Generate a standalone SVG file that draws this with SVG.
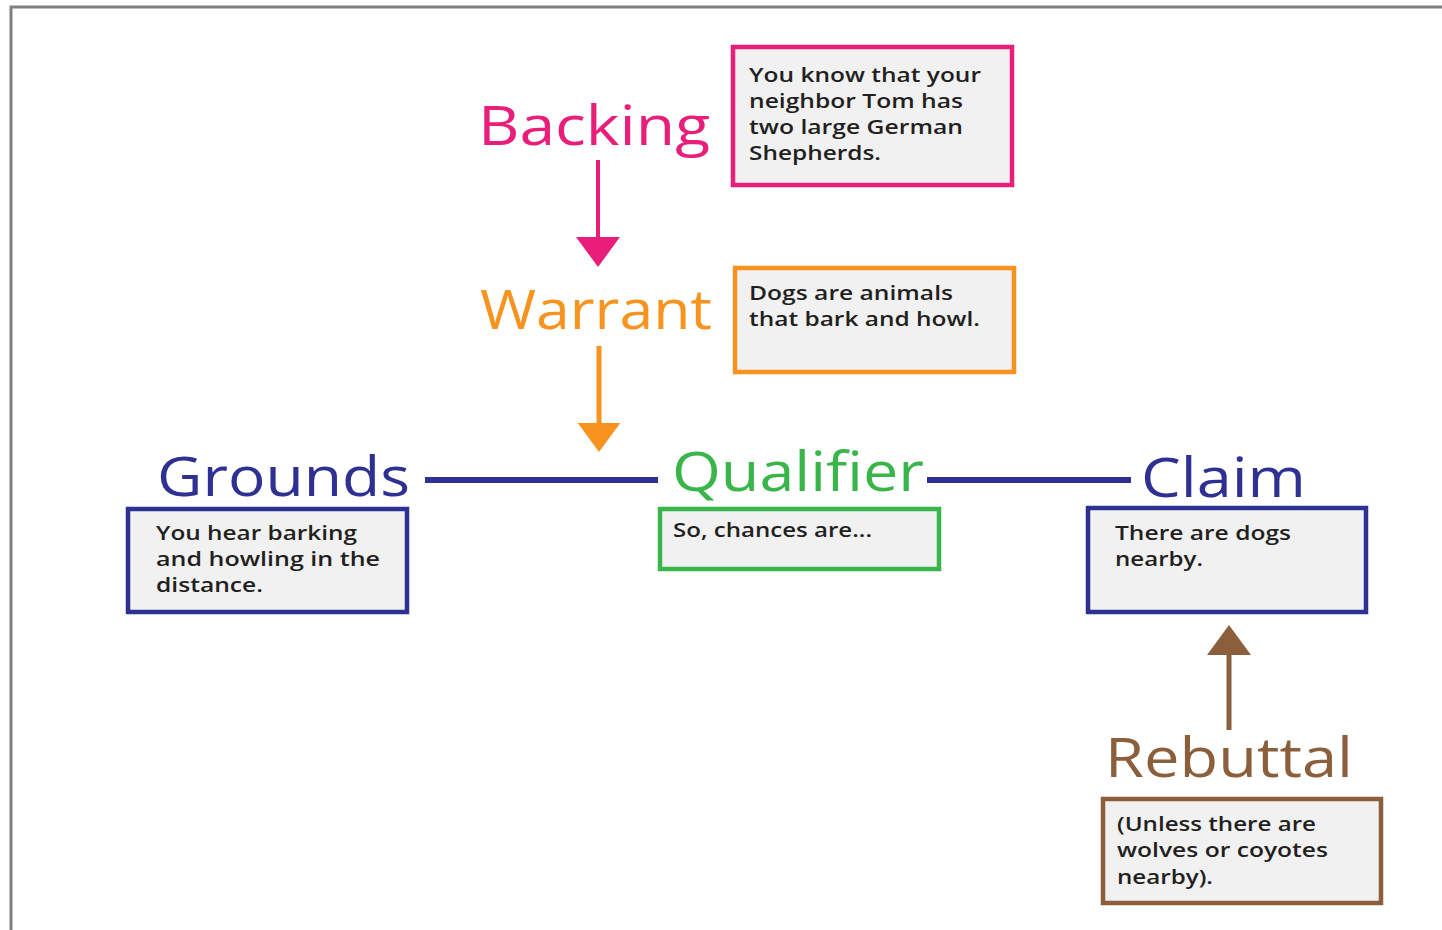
<svg xmlns="http://www.w3.org/2000/svg" width="1442" height="930" viewBox="0 0 1442 930">
<defs>
<style>
.head{font-family:"Open Sans","Noto Sans","Liberation Sans",sans-serif;font-size:55px;}
.body{font-family:"Open Sans","Noto Sans","Liberation Sans",sans-serif;font-size:19px;font-weight:600;fill:#231f20;}
.box{fill:#f1f1f2;stroke-width:4.5;}
.conn{fill:none;}
</style>
<marker id="mPink" viewBox="0 -22 30 44" refX="0" refY="0" markerWidth="30" markerHeight="44" markerUnits="userSpaceOnUse" orient="auto"><path d="M0,-22 L30,0 L0,22 z" fill="#e91e7a"/></marker>
<marker id="mOrange" viewBox="0 -22 30 44" refX="0" refY="0" markerWidth="29" markerHeight="43" markerUnits="userSpaceOnUse" orient="auto"><path d="M0,-22 L30,0 L0,22 z" fill="#f7931e"/></marker>
<marker id="mBrown" viewBox="0 -22 30 44" refX="0" refY="0" markerWidth="32" markerHeight="44" markerUnits="userSpaceOnUse" orient="auto"><path d="M0,-22 L30,0 L0,22 z" fill="#8b5e3c"/></marker>
</defs>
<rect width="1442" height="930" fill="#ffffff"/>
<path d="M11,930 V7 H1442" fill="none" stroke="#808080" stroke-width="3"/>
<g id="connectors" class="conn">
<line x1="598" y1="160" x2="598" y2="237" stroke="#e91e7a" stroke-width="4" marker-end="url(#mPink)"/>
<line x1="599" y1="346" x2="599" y2="423" stroke="#f7931e" stroke-width="5" marker-end="url(#mOrange)"/>
<line x1="425" y1="480" x2="658" y2="480" stroke="#2e3192" stroke-width="6"/>
<line x1="927" y1="480" x2="1131" y2="480" stroke="#2e3192" stroke-width="6"/>
<line x1="1229" y1="730" x2="1229" y2="655" stroke="#8b5e3c" stroke-width="5" marker-end="url(#mBrown)"/>
</g>
<g id="backing">
<text class="head" x="478" y="145" fill="#e91e7a" textLength="232" lengthAdjust="spacingAndGlyphs">Backing</text>
<rect class="box" x="733" y="47" width="279" height="138" stroke="#e91e7a"/>
<text class="body" x="749" y="82" textLength="232" lengthAdjust="spacingAndGlyphs">You know that your</text>
<text class="body" x="749" y="108" textLength="214" lengthAdjust="spacingAndGlyphs">neighbor Tom has</text>
<text class="body" x="749" y="134" textLength="214" lengthAdjust="spacingAndGlyphs">two large German</text>
<text class="body" x="749" y="160" textLength="132" lengthAdjust="spacingAndGlyphs">Shepherds.</text>
</g>
<g id="warrant">
<text class="head" x="480" y="329" fill="#f7931e" textLength="232" lengthAdjust="spacingAndGlyphs">Warrant</text>
<rect class="box" x="735" y="268" width="279" height="104" stroke="#f7931e"/>
<text class="body" x="749" y="300" textLength="204" lengthAdjust="spacingAndGlyphs">Dogs are animals</text>
<text class="body" x="749" y="326" textLength="231" lengthAdjust="spacingAndGlyphs">that bark and howl.</text>
</g>
<g id="grounds">
<text class="head" x="157" y="496" fill="#2e3192" textLength="253" lengthAdjust="spacingAndGlyphs">Grounds</text>
<rect class="box" x="128" y="509" width="279" height="103" stroke="#2e3192"/>
<text class="body" x="156" y="540" textLength="201" lengthAdjust="spacingAndGlyphs">You hear barking</text>
<text class="body" x="156" y="566" textLength="224" lengthAdjust="spacingAndGlyphs">and howling in the</text>
<text class="body" x="156" y="592" textLength="107" lengthAdjust="spacingAndGlyphs">distance.</text>
</g>
<g id="qualifier">
<text class="head" x="672" y="491" fill="#39b54a" textLength="252" lengthAdjust="spacingAndGlyphs">Qualifier</text>
<rect class="box" x="660" y="509" width="279" height="60" stroke="#39b54a"/>
<text class="body" x="673" y="537" textLength="199" lengthAdjust="spacingAndGlyphs">So, chances are...</text>
</g>
<g id="claim">
<text class="head" x="1141" y="497" fill="#2e3192" textLength="165" lengthAdjust="spacingAndGlyphs">Claim</text>
<rect class="box" x="1088" y="508" width="278" height="104" stroke="#2e3192"/>
<text class="body" x="1115" y="540" textLength="176" lengthAdjust="spacingAndGlyphs">There are dogs</text>
<text class="body" x="1115" y="566" textLength="88" lengthAdjust="spacingAndGlyphs">nearby.</text>
</g>
<g id="rebuttal">
<text class="head" x="1105" y="777" fill="#8b5e3c" textLength="248" lengthAdjust="spacingAndGlyphs">Rebuttal</text>
<rect class="box" x="1103" y="799" width="278" height="104" stroke="#8b5e3c"/>
<text class="body" x="1117" y="831" textLength="199" lengthAdjust="spacingAndGlyphs">(Unless there are</text>
<text class="body" x="1117" y="857" textLength="211" lengthAdjust="spacingAndGlyphs">wolves or coyotes</text>
<text class="body" x="1117" y="884" textLength="96" lengthAdjust="spacingAndGlyphs">nearby).</text>
</g>
</svg>
